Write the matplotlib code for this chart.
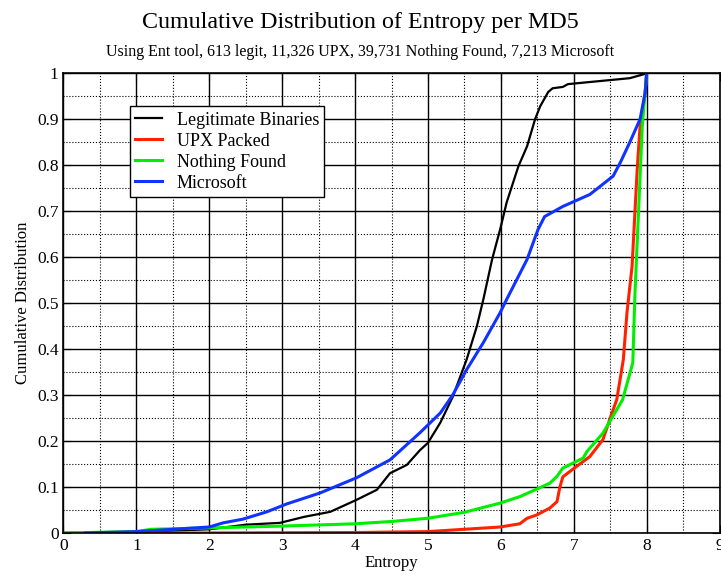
import matplotlib.pyplot as plt
from matplotlib.ticker import MultipleLocator, FuncFormatter

plt.rcParams['font.family'] = ['Liberation Serif', 'DejaVu Serif']

# Legitimate Binaries (613)
legit_x = [0.0, 1.0, 2.0, 2.5, 2.97, 3.3, 3.66, 4.02, 4.30, 4.48, 4.71, 4.89, 5.0, 5.17,
           5.34, 5.53, 5.67, 5.76, 5.88, 5.99, 6.08, 6.24, 6.36, 6.47, 6.54, 6.65,
           6.71, 6.85, 6.92, 7.18, 7.64, 7.77, 7.97, 8.0]
legit_y = [0.0, 0.002, 0.008, 0.018, 0.022, 0.035, 0.046, 0.072, 0.094, 0.13, 0.148, 0.18,
           0.196, 0.24, 0.296, 0.377, 0.449, 0.508, 0.595, 0.66, 0.719, 0.797, 0.841,
           0.9, 0.928, 0.959, 0.967, 0.97, 0.976, 0.98, 0.987, 0.989, 0.998, 1.0]

# UPX Packed (11,326)
upx_x = [0.0, 2.0, 4.0, 5.0, 5.99, 6.26, 6.36, 6.49, 6.67, 6.77, 6.81, 6.85, 6.99, 7.22,
         7.40, 7.50, 7.59, 7.68, 7.73, 7.80, 7.87, 7.91, 7.98, 8.0]
upx_y = [0.0, 0.0, 0.001, 0.003, 0.013, 0.02, 0.032, 0.039, 0.054, 0.068, 0.1, 0.122,
         0.139, 0.166, 0.203, 0.25, 0.29, 0.377, 0.479, 0.58, 0.79, 0.885, 0.958, 1.0]

# Nothing Found (39,731)
nf_x = [0.0, 1.0, 1.2, 2.0, 3.0, 4.0, 4.5, 5.0, 5.5, 5.99, 6.26, 6.67, 6.77, 6.85, 7.13,
        7.18, 7.40, 7.67, 7.81, 7.84, 7.88, 7.94, 8.0]
nf_y = [0.0, 0.003, 0.008, 0.011, 0.015, 0.02, 0.025, 0.032, 0.045, 0.065, 0.079, 0.108,
        0.123, 0.141, 0.163, 0.177, 0.217, 0.29, 0.37, 0.523, 0.667, 0.885, 1.0]

# Microsoft (7,213)
ms_x = [0.3, 1.0, 2.0, 2.19, 2.46, 2.79, 3.06, 3.52, 4.02, 4.48, 4.89, 5.17, 5.34, 5.53,
        5.76, 5.99, 6.08, 6.36, 6.51, 6.60, 6.85, 7.22, 7.54, 7.64, 7.77, 7.91, 7.98, 8.0]
ms_y = [0.0, 0.003, 0.013, 0.022, 0.03, 0.046, 0.063, 0.087, 0.12, 0.159, 0.218, 0.261,
        0.3, 0.355, 0.414, 0.479, 0.508, 0.595, 0.66, 0.688, 0.71, 0.736, 0.776, 0.806,
        0.85, 0.9, 0.958, 1.0]

fig = plt.figure(figsize=(7.21, 5.77), dpi=100)
ax = fig.add_axes([0.088, 0.0763, 0.910, 0.797])

ax.plot(legit_x, legit_y, color="black", lw=1.6, label="Legitimate Binaries")
ax.plot(upx_x, upx_y, color="#ff2200", lw=2.2, label="UPX Packed")
ax.plot(nf_x, nf_y, color="#00ee00", lw=2.2, label="Nothing Found")
ax.plot(ms_x, ms_y, color="#1133ff", lw=2.2, label="Microsoft")

ax.set_xlim(0, 9)
ax.set_ylim(0, 1)
ax.xaxis.set_major_locator(MultipleLocator(1))
ax.xaxis.set_minor_locator(MultipleLocator(0.5))
ax.yaxis.set_major_locator(MultipleLocator(0.1))
ax.yaxis.set_minor_locator(MultipleLocator(0.05))
ax.yaxis.set_major_formatter(FuncFormatter(lambda v, p: "%g" % round(v, 2)))
ax.grid(True, which="major", color="black", linestyle="-", lw=1.0)
ax.grid(True, which="minor", color="black", linestyle=":", lw=0.8)
ax.tick_params(which="both", direction="in", top=True, right=True, labelsize=12.5)
ax.tick_params(which="major", length=6)
ax.tick_params(which="minor", length=0)
for s in ax.spines.values():
    s.set_linewidth(1.2)

ax.set_xlabel("Entropy", fontsize=12, labelpad=1)
ax.set_ylabel("Cumulative Distribution", fontsize=12, labelpad=4)

fig.text(0.5, 0.952, "Cumulative Distribution of Entropy per MD5", ha="center", fontsize=17.3)
fig.text(0.5, 0.903, "Using Ent tool, 613 legit, 11,326 UPX, 39,731 Nothing Found, 7,213 Microsoft",
         ha="center", fontsize=11.5)

leg = ax.legend(loc="upper left", bbox_to_anchor=(0.101, 0.928), fontsize=13, fancybox=False,
                framealpha=1, edgecolor="black", borderpad=0.3, labelspacing=0.22,
                handlelength=1.5, handletextpad=0.8, borderaxespad=0)
leg.get_frame().set_linewidth(1.0)

fig.savefig("out.png", dpi=100)
